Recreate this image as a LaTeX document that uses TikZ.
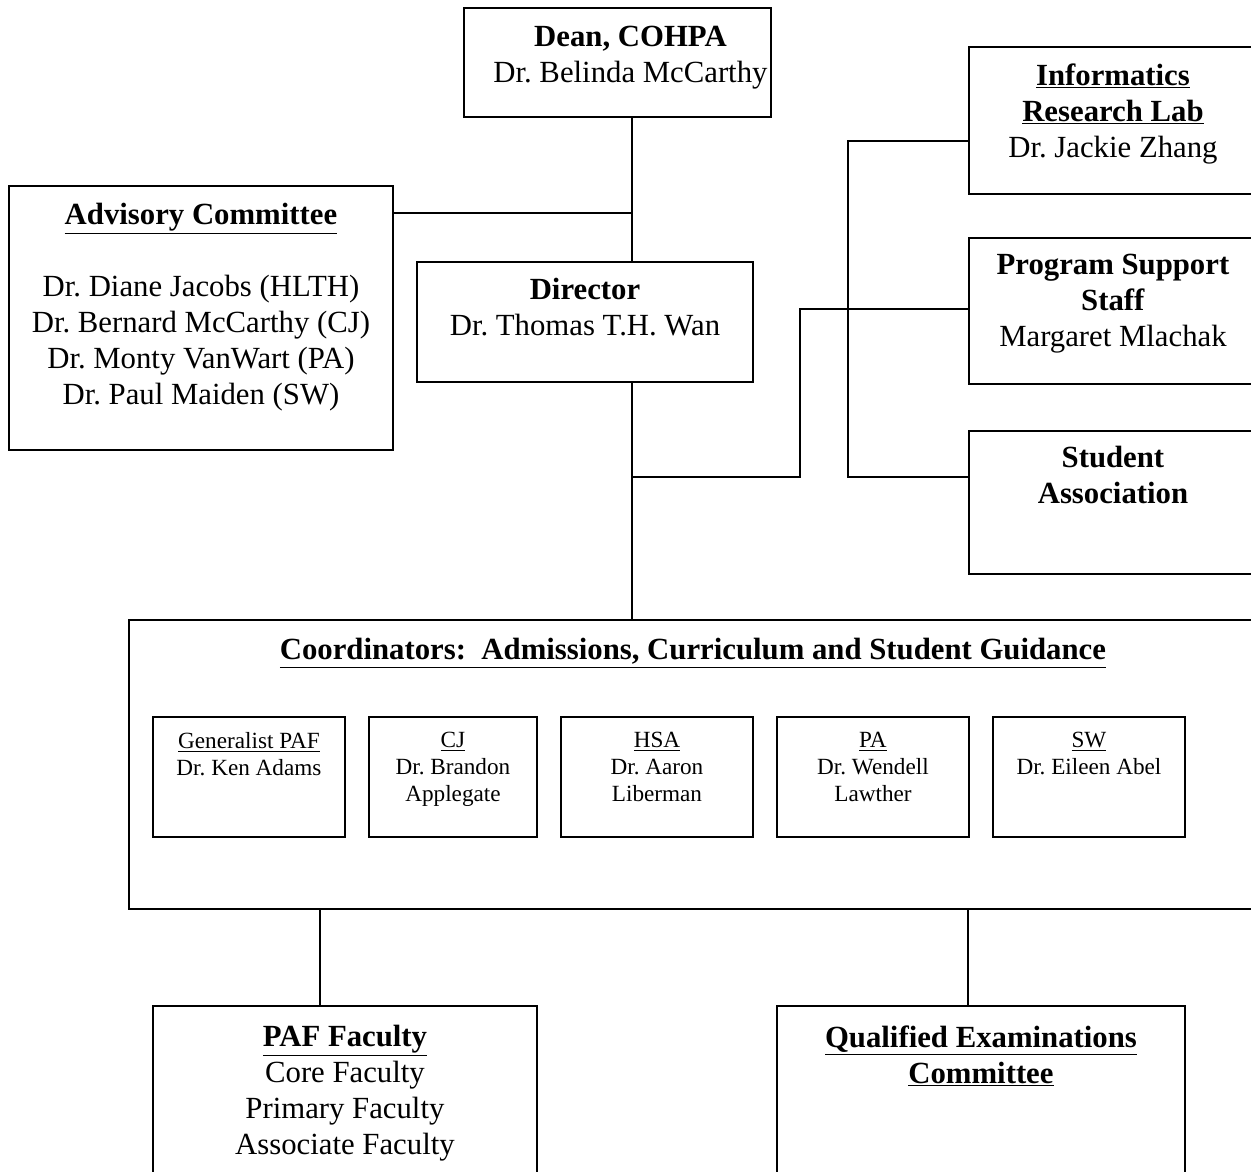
\documentclass[tikz,border=0pt]{standalone}
\usepackage{fontspec}
\setmainfont{Liberation Serif}
\usetikzlibrary{positioning}
\frenchspacing
\newcommand{\bigtext}{\fontsize{17.5}{20.5}\selectfont}
\newcommand{\smalltext}{\fontsize{13.2}{15.4}\selectfont}
\tikzset{
  unit/.style 2 args={draw, line width=1.1pt, anchor=north west, minimum width=#1, minimum height=#2, inner sep=0pt},
  txt/.style={align=center, inner sep=0pt, font=\bigtext},
  subtxt/.style={align=center, inner sep=0pt, font=\smalltext},
  link/.style={line width=0.9pt}
}

\begin{document}
\begin{tikzpicture}

\clip (0,0) rectangle (25.02,-23.44);

% Boxes
\node[unit={6.14cm}{2.18cm}] (dean) at (9.26,-0.14) {};
\node[unit={5.76cm}{2.94cm}] (inform) at (19.36,-0.92) {};
\node[unit={7.68cm}{5.28cm}] (advisory) at (0.16,-3.70) {};
\node[unit={6.72cm}{2.40cm}] (director) at (8.32,-5.22) {};
\node[unit={5.76cm}{2.92cm}] (support) at (19.36,-4.74) {};
\node[unit={5.76cm}{2.86cm}] (student) at (19.36,-8.60) {};
\node[unit={22.56cm}{5.78cm}] (coord) at (2.56,-12.38) {};
\node[unit={7.68cm}{4.00cm}] (paf) at (3.04,-20.10) {};
\node[unit={8.16cm}{4.00cm}] (qual) at (15.52,-20.10) {};

% Coordinator boxes
\node[unit={3.84cm}{2.40cm}] (gen) at (3.04,-14.32) {};
\node[unit={3.36cm}{2.40cm}] (cj) at (7.36,-14.32) {};
\node[unit={3.84cm}{2.40cm}] (hsa) at (11.20,-14.32) {};
\node[unit={3.84cm}{2.40cm}] (pa) at (15.52,-14.32) {};
\node[unit={3.84cm}{2.40cm}] (sw) at (19.84,-14.32) {};

% Texts
\node[txt, below=0.38cm of dean.north, xshift=0.26cm] (deantext) {\textbf{Dean, COHPA}\\ Dr. Belinda McCarthy};
\node[txt, below=0.34cm of inform.north] (informtext) {\textbf{\underline{Informatics}}\\ \textbf{\underline{Research Lab}}\\ Dr. Jackie Zhang};
\node[txt, below=0.36cm of advisory.north] (advisorytext) {\textbf{\underline{Advisory Committee}}\\[0.72cm] Dr. Diane Jacobs (HLTH)\\ Dr. Bernard McCarthy (CJ)\\ Dr. Monty VanWart (PA)\\ Dr. Paul Maiden (SW)};
\node[txt, below=0.34cm of director.north] (directortext) {\textbf{Director}\\ Dr. Thomas T.H. Wan};
\node[txt, below=0.34cm of support.north] (supporttext) {\textbf{Program Support}\\ \textbf{Staff}\\ Margaret Mlachak};
\node[txt, below=0.32cm of student.north] (studenttext) {\textbf{Student}\\ \textbf{Association}};
\node[txt, below=0.38cm of coord.north] (coordtext) {\textbf{\underline{Coordinators:\ \ Admissions, Curriculum and Student Guidance}}};
\node[txt, below=0.40cm of paf.north] (paftext) {\textbf{\underline{PAF Faculty}}\\ Core Faculty\\ Primary Faculty\\ Associate Faculty};
\node[txt, below=0.40cm of qual.north] (qualtext) {\textbf{\underline{Qualified Examinations}}\\ \textbf{\underline{Committee}}};

\node[subtxt, below=0.32cm of gen.north] (gentext) {\underline{Generalist PAF}\\ Dr. Ken Adams};
\node[subtxt, below=0.32cm of cj.north] (cjtext) {\underline{CJ}\\ Dr. Brandon\\ Applegate};
\node[subtxt, below=0.32cm of hsa.north] (hsatext) {\underline{HSA}\\ Dr. Aaron\\ Liberman};
\node[subtxt, below=0.32cm of pa.north] (patext) {\underline{PA}\\ Dr. Wendell\\ Lawther};
\node[subtxt, below=0.32cm of sw.north] (swtext) {\underline{SW}\\ Dr. Eileen Abel};

% Joints
\coordinate (spine) at (12.64,-4.26);
\coordinate (fork) at (12.64,-9.54);
\coordinate (elbow) at (16.00,-6.18);
\coordinate (rail) at (16.96,-2.82);
\coordinate (leftleg) at (6.40,-18.16);
\coordinate (rightleg) at (19.36,-18.16);

% Connectors
\draw[link] (dean.south -| spine) -- (director.north -| spine);
\draw[link] (spine -| advisory.east) -- (spine);
\draw[link] (director.south -| fork) -- (coord.north -| fork);
\draw[link] (fork) -| (elbow) -- (elbow -| support.west);
\draw[link] (rail -| inform.west) -- (rail) -- (rail |- fork) -- (fork -| student.west);
\draw[link] (leftleg) -- (leftleg |- paf.north);
\draw[link] (rightleg) -- (rightleg |- qual.north);

\end{tikzpicture}
\end{document}
